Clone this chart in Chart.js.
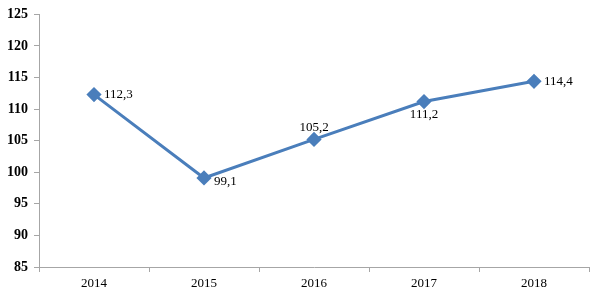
<!DOCTYPE html>
<html>
<head>
<meta charset="utf-8">
<script src="https://cdn.jsdelivr.net/npm/chart.js@4/dist/chart.umd.min.js"></script>
<style>
  html, body { margin: 0; padding: 0; background: #fff; }
  #wrap { width: 602px; height: 298px; }
</style>
</head>
<body>
<div id="wrap"><canvas id="graphic"></canvas></div>
<script>
var years = ['2014', '2015', '2016', '2017', '2018'];
var values = [112.3, 99.1, 105.2, 111.2, 114.4];
var yTicks = [85, 90, 95, 100, 105, 110, 115, 120, 125];

// where each value label sits relative to its point
var labelPlace = ['right', 'rightBelow', 'above', 'below', 'right'];

var pointLabels = {
    id: 'pointLabels',
    afterDatasetsDraw: function (chart) {
        var ctx = chart.ctx;
        var meta = chart.getDatasetMeta(0);
        ctx.save();
        ctx.font = '13px "Liberation Serif", "Times New Roman", serif';
        ctx.fillStyle = '#000';
        meta.data.forEach(function (pt, i) {
            var txt = values[i].toFixed(1).replace('.', ',');
            var p = labelPlace[i];
            if (p === 'right') {
                ctx.textAlign = 'left'; ctx.textBaseline = 'middle';
                ctx.fillText(txt, pt.x + 10, pt.y);
            } else if (p === 'rightBelow') {
                ctx.textAlign = 'left'; ctx.textBaseline = 'middle';
                ctx.fillText(txt, pt.x + 10, pt.y + 4);
            } else if (p === 'above') {
                ctx.textAlign = 'center'; ctx.textBaseline = 'bottom';
                ctx.fillText(txt, pt.x, pt.y - 5);
            } else {
                ctx.textAlign = 'center'; ctx.textBaseline = 'top';
                ctx.fillText(txt, pt.x, pt.y + 7);
            }
        });
        ctx.restore();
    }
};

var chartData = {
    labels: years,
    datasets: [{
        data: values,
        borderColor: '#4a7ebb',
        backgroundColor: '#4a7ebb',
        borderWidth: 3,
        pointStyle: 'rectRot',
        pointRadius: 5.5,
        pointHoverRadius: 5.5,
        tension: 0
    }]
};

var chartOptions = {
    responsive: true,
    maintainAspectRatio: false,
    animation: false,
    layout: { padding: { top: 14, right: 13, bottom: 4, left: 0 } },
    plugins: {
        legend: { display: false },
        tooltip: { enabled: false }
    },
    scales: {
        x: {
            offset: true,
            grid: {
                offset: true,
                drawOnChartArea: false,
                drawTicks: true,
                tickLength: 5,
                color: '#a6a6a6'
            },
            border: { color: '#a6a6a6', width: 1 },
            ticks: {
                color: '#000',
                padding: 4,
                font: { family: '"Liberation Serif", "Times New Roman", serif', size: 13 }
            },
            afterFit: function (s) { s.height = 27; }
        },
        y: {
            min: 85,
            max: 125,
            afterBuildTicks: function (s) {
                s.ticks = yTicks.map(function (v) { return { value: v }; });
            },
            grid: {
                drawOnChartArea: false,
                drawTicks: true,
                tickLength: 5,
                color: '#a6a6a6'
            },
            border: { color: '#a6a6a6', width: 1 },
            ticks: {
                color: '#000',
                padding: 6,
                font: { family: '"Liberation Serif", "Times New Roman", serif', size: 14, weight: 'bold' }
            },
            afterFit: function (s) { s.width = 39; }
        }
    }
};

var graphic = new Chart(document.getElementById('graphic').getContext('2d'), {
    type: 'line',
    data: chartData,
    options: chartOptions,
    plugins: [pointLabels]
});
</script>
</body>
</html>
